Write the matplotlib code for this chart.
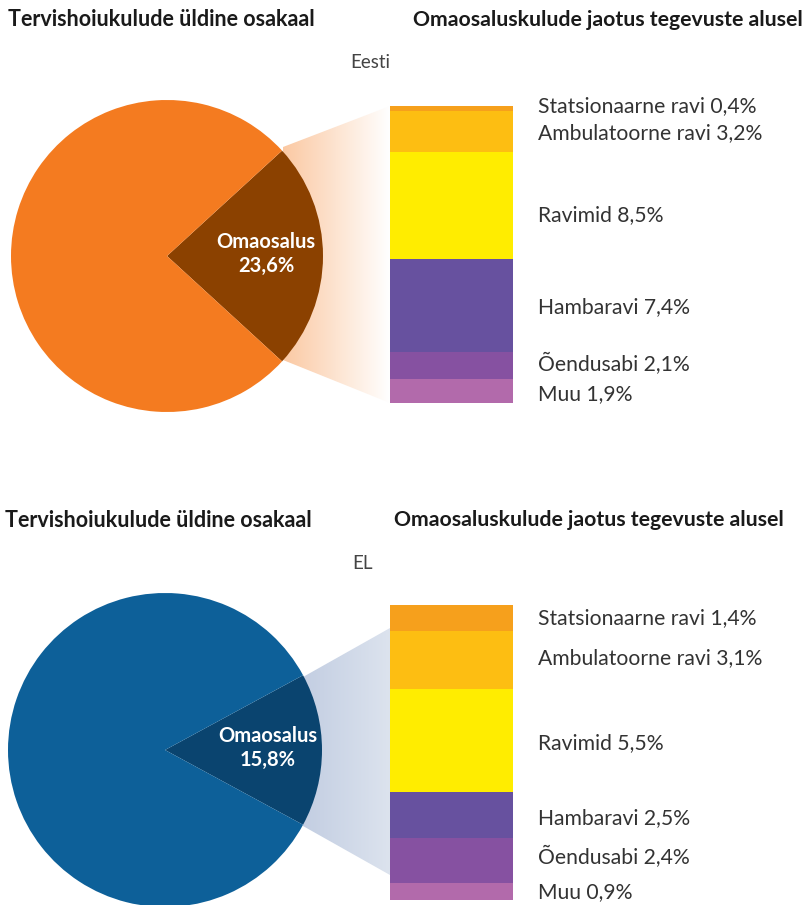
import numpy as np
import matplotlib
matplotlib.use("Agg")
import matplotlib.pyplot as plt
from matplotlib.patches import Polygon
from matplotlib.colors import LinearSegmentedColormap

# andmed
kategooriad = ["Statsionaarne ravi", "Ambulatoorne ravi", "Ravimid",
               "Hambaravi", "Õendusabi", "Muu"]
eesti_osad = [0.4, 3.2, 8.5, 7.4, 2.1, 1.9]
el_osad = [1.4, 3.1, 5.5, 2.5, 2.4, 0.9]
eesti_omaosalus = 23.6
el_omaosalus = 15.8
paneelid = ["Eesti", "EL"]

tulba_varvid = ["#F6A01C", "#FDBE12", "#FFED00", "#67519F", "#8651A1", "#B26AAB"]

plt.rcParams["font.family"] = ["Lato", "DejaVu Sans"]

fig = plt.figure(figsize=(8.1, 9.05), dpi=100)
ax = fig.add_axes([0, 0, 1, 1])


def fmt(v):
    return f"{v:.1f}".replace(".", ",") + "%"


def paneel(nimi, omaosalus, osad, pie_cx, pie_cy, pie_r, pie_col, wedge_col,
           bar_top, px_per, grad, poly, label_y, title_y, title_x, nimi_x, tekst_dx):
    # pealkirjad
    ax.text(title_x[0], title_y, "Tervishoiukulude üldine osakaal", fontsize=15.5,
            fontweight="bold", color="#1a1a1a", va="center", ha="left")
    ax.text(title_x[1], title_y, "Omaosaluskulude jaotus tegevuste alusel",
            fontsize=15.3, fontweight="bold", color="#1a1a1a", va="center", ha="left")
    ax.text(nimi_x, title_y + 43, nimi, fontsize=13.5, color="#444444",
            va="center", ha="center")

    # gradient ühenduspind
    xs = [p[0] for p in poly]
    ys = [p[1] for p in poly]
    cmap = LinearSegmentedColormap.from_list("g", grad)
    g = np.linspace(0, 1, 256).reshape(1, -1)
    im = ax.imshow(g, cmap=cmap, extent=[min(xs), max(xs), max(ys), min(ys)],
                   aspect="auto", zorder=1)
    clip = Polygon(poly, closed=True, transform=ax.transData, facecolor="none",
                   edgecolor="none")
    ax.add_patch(clip)
    im.set_clip_path(clip)

    # sektordiagramm
    pool = omaosalus * 1.8
    ax.pie([omaosalus, 100 - omaosalus], startangle=-pool, center=(pie_cx, pie_cy),
           radius=pie_r, colors=[wedge_col, pie_col], frame=True,
           wedgeprops=dict(linewidth=0, zorder=2))
    ax.text(pie_cx + tekst_dx, pie_cy - 2, "Omaosalus\n" + fmt(omaosalus), color="white",
            fontsize=14.5, fontweight="bold", ha="center", va="center",
            linespacing=1.3, zorder=3)

    # virnastatud tulp
    korgused = np.array(osad) * px_per
    alused = bar_top + np.concatenate([[0], np.cumsum(korgused)[:-1]])
    ax.bar([451] * len(osad), korgused, bottom=alused, width=123,
           color=tulba_varvid, linewidth=0, zorder=2)
    for k, v, ly in zip(kategooriad, osad, label_y):
        ax.text(538, ly, f"{k} {fmt(v)}", fontsize=15.2, color="#333333",
                va="center", ha="left")


paneel(paneelid[0], eesti_omaosalus, eesti_osad, 167, 256, 156,
       "#F47B20", "#8B4100", bar_top=106, px_per=12.64,
       grad=["#FBC9A3", "#FFFFFF"],
       poly=[(283, 147), (390, 106), (390, 403), (283, 360)],
       label_y=[106, 133, 215, 307, 364, 394], title_y=20,
       title_x=(8, 413), nimi_x=370, tekst_dx=99)

paneel(paneelid[1], el_omaosalus, el_osad, 165, 750, 157,
       "#0D6099", "#0A446F", bar_top=605, px_per=18.67,
       grad=["#C3CEE2", "#DCE3EE"],
       poly=[(303, 677), (390, 628), (390, 875), (303, 826)],
       label_y=[618, 658, 743, 818, 857, 892], title_y=520,
       title_x=(5, 394), nimi_x=362, tekst_dx=103)

ax.set_xlim(0, 810)
ax.set_ylim(905, 0)
ax.set_aspect("auto")
ax.axis("off")

fig.savefig("out.png", dpi=100)
